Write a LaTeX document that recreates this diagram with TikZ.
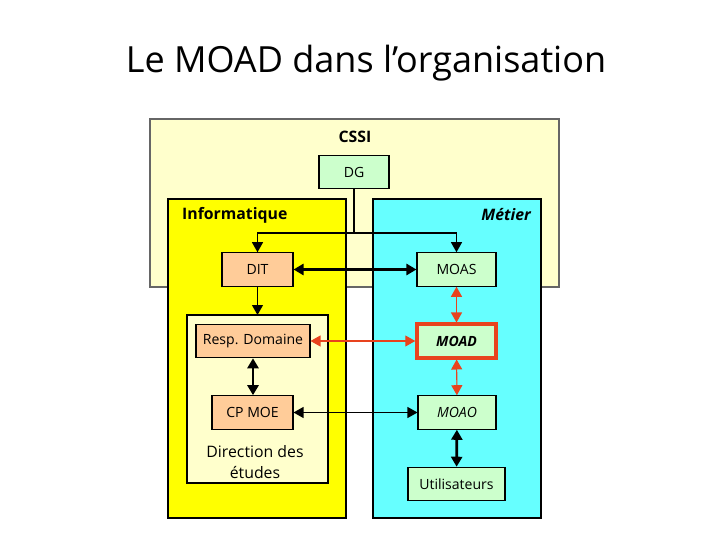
\documentclass[tikz,border=0pt]{standalone}
\usepackage{fontspec}
\setmainfont{Open Sans}
\usepackage{xcolor}
\usetikzlibrary{arrows.meta, positioning}

\definecolor{paleyellow}{HTML}{FFFFCC}
\definecolor{infoyellow}{HTML}{FFFF00}
\definecolor{metiercyan}{HTML}{66FFFF}
\definecolor{palegreen}{HTML}{CCFFCC}
\definecolor{peach}{HTML}{FFCC99}
\definecolor{moadred}{HTML}{E8431E}

\tikzset{
  unitbox/.style={draw=black, line width=0.6pt, minimum height=0.67cm, inner sep=0pt, font=\footnotesize},
  metbox/.style={unitbox, fill=palegreen},
  infbox/.style={unitbox, fill=peach},
  tip/.style={-{Triangle[length=0.2cm,width=0.22cm]}},
  link/.style={{Triangle[length=0.2cm,width=0.22cm]}-{Triangle[length=0.2cm,width=0.22cm]}, line width=0.6pt},
  boldlink/.style={link, line width=1.6pt},
  redlink/.style={link, draw=moadred, fill=moadred},
}

\begin{document}
\begin{tikzpicture}[x=0.02cm, y=-0.02cm]
  \useasboundingbox (0,0) rectangle (720,540);
  % title
  \node[font=\fontsize{20.5}{22}\selectfont] (title) at (366,63) {Le MOAD dans l’organisation};

  % containers: CSSI, Informatique, Metier, Direction des etudes
  \filldraw[fill=paleyellow, draw=black!60, line width=0.6pt] (150,119) rectangle (559,287);
  \node[font=\small\bfseries] (cssi) at (355,137) {CSSI};
  \filldraw[fill=infoyellow, draw=black, line width=0.6pt] (168,199) rectangle (346,518);
  \filldraw[fill=metiercyan, draw=black, line width=0.6pt] (373,199) rectangle (541,518);
  \node[font=\small\bfseries, anchor=west] (info) at (176,215) {Informatique};
  \node[font=\small\bfseries\itshape, anchor=east] (metier) at (537,215) {Métier};
  \filldraw[fill=paleyellow, draw=black, line width=0.6pt] (187,315) rectangle (328,483);
  \node[font=\small, align=center] (dir) at (255,462) {Direction des\\[1pt]études};

  % boxes
  \node[metbox, minimum width=1.40cm] (DG) at (354,172) {DG};
  \node[infbox, minimum width=1.42cm] (DIT) at (257.5,269.5) {DIT};
  \node[metbox, minimum width=1.58cm] (MOAS) at (456.5,269.5) {MOAS};
  \node[infbox, minimum width=2.28cm] (resp) at (253,341) {Resp. Domaine};
  \node[metbox, minimum width=1.58cm, draw=moadred, line width=2pt, font=\footnotesize\bfseries\itshape] (MOAD) at (456.5,341) {MOAD};
  \node[infbox, minimum width=1.62cm] (cpmoe) at (252.5,412.5) {CP MOE};
  \node[metbox, minimum width=1.56cm, font=\footnotesize\itshape] (MOAO) at (457,412.5) {MOAO};
  \node[metbox, minimum width=1.94cm] (util) at (456.5,484) {Utilisateurs};

  % DG split to DIT and MOAS
  \coordinate (split) at (354,233);
  \coordinate (dirtop) at (257.5,315);
  \draw[line width=0.6pt] (DG.south) -- (split);
  \draw[line width=0.6pt, tip] (split) -| (DIT.north);
  \draw[line width=0.6pt, tip] (split) -| (MOAS.north);
  \draw[line width=0.6pt, tip] (DIT.south) -- (dirtop);

  % black links
  \draw[boldlink] (DIT) -- (MOAS);
  \draw[boldlink] (resp) -- (resp |- cpmoe.north);
  \draw[link] (cpmoe) -- (MOAO);
  \draw[boldlink] (MOAO) -- (util);

  % red links round the MOAD
  \draw[redlink] (MOAS) -- (MOAD);
  \draw[redlink] (MOAD) -- (MOAO);
  \draw[redlink] (resp) -- (MOAD);
\end{tikzpicture}
\end{document}
